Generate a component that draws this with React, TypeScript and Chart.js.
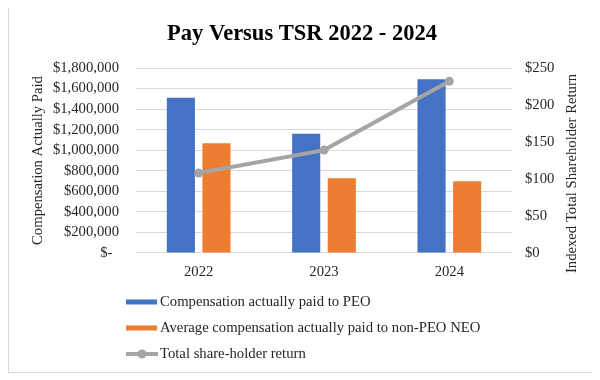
import React, { useEffect, useRef } from "react";
import { Chart, registerables } from "chart.js";

Chart.register(...registerables);

const categories = ["2022", "2023", "2024"];
const peoComp = [1510000, 1160000, 1690000];
const neoComp = [1067000, 726000, 697000];
const tsr = [108, 139, 232];

const seriesNames = [
  "Compensation actually paid to PEO",
  "Average compensation actually paid to non-PEO NEO",
  "Total share-holder return",
];
const chartTitle = "Pay Versus TSR 2022 - 2024";
const leftTitle = "Compensation Actually Paid";
const rightTitle = "Indexed Total Shareholder Return";

const FONT = "'Liberation Serif', 'Times New Roman', serif";
const FS = 14.7;
const TEXT = "#262626";
const BLUE = "#4472C4";
const ORANGE = "#ED7D31";
const GRAY = "#A5A5A5";

const extrasPlugin = {
  id: "extras",
  afterDraw(chart: any) {
    const ctx = chart.ctx;
    const ca = chart.chartArea;
    ctx.save();
    ctx.font = `${FS}px ${FONT}`;
    ctx.fillStyle = TEXT;
    // right axis title, reading bottom to top
    const y1 = chart.scales.y1;
    ctx.save();
    ctx.translate(y1.right - 23, (ca.top + ca.bottom) / 2 + 13);
    ctx.rotate(-Math.PI / 2);
    ctx.textAlign = "center";
    ctx.textBaseline = "middle";
    ctx.fillText(rightTitle, 0, 0);
    ctx.restore();
    // legend
    const x0 = ca.left - 10;
    const rows = [49, 75, 101];
    chart.data.datasets.forEach((ds: any, i: number) => {
      const y = ca.bottom + rows[i];
      if (ds.type === "line") {
        ctx.strokeStyle = ds.borderColor;
        ctx.lineWidth = 4;
        ctx.beginPath();
        ctx.moveTo(x0, y);
        ctx.lineTo(x0 + 32, y);
        ctx.stroke();
        ctx.fillStyle = ds.borderColor;
        ctx.beginPath();
        ctx.arc(x0 + 16, y, 4.5, 0, Math.PI * 2);
        ctx.fill();
      } else {
        ctx.fillStyle = ds.backgroundColor;
        ctx.fillRect(x0, y - 2.5, 31, 5);
      }
      ctx.fillStyle = TEXT;
      ctx.textAlign = "left";
      ctx.textBaseline = "middle";
      ctx.fillText(ds.label, x0 + 34, y);
    });
    ctx.restore();
  },
};

export default function App() {
  const ref = useRef<HTMLCanvasElement>(null);
  useEffect(() => {
    if (!ref.current) return;
    Chart.defaults.font.family = FONT;
    const chart = new Chart(ref.current, {
      type: "bar",
      data: {
        labels: categories,
        datasets: [
          {
            type: "bar",
            label: seriesNames[0],
            data: peoComp,
            yAxisID: "y",
            backgroundColor: BLUE,
            categoryPercentage: 0.568,
            barPercentage: 0.79,
            order: 1,
          },
          {
            type: "bar",
            label: seriesNames[1],
            data: neoComp,
            yAxisID: "y",
            backgroundColor: ORANGE,
            categoryPercentage: 0.568,
            barPercentage: 0.79,
            order: 2,
          },
          {
            type: "line",
            label: seriesNames[2],
            data: tsr,
            yAxisID: "y1",
            borderColor: GRAY,
            backgroundColor: GRAY,
            borderWidth: 4,
            pointRadius: 4.5,
            pointBackgroundColor: GRAY,
            pointBorderWidth: 0,
            order: 0,
          } as any,
        ],
      },
      plugins: [extrasPlugin],
      options: {
        animation: false,
        responsive: true,
        maintainAspectRatio: false,
        layout: { padding: { left: 0, right: 0, top: 0, bottom: 81.4 } },
        plugins: {
          legend: { display: false },
          tooltip: { enabled: false },
          title: {
            display: true,
            text: chartTitle,
            color: "#000",
            font: { family: FONT, size: 22.5, weight: "bold" },
            padding: { top: 12.5, bottom: 20.5 },
          },
        },
        scales: {
          x: {
            grid: { display: false, drawTicks: false },
            border: { display: false },
            ticks: { color: TEXT, font: { size: FS, family: FONT }, padding: 10 },
          },
          y: {
            position: "left",
            min: 0,
            max: 1800000,
            grid: { color: "#d9d9d9", drawTicks: false, lineWidth: 1 },
            border: { display: false },
            ticks: {
              stepSize: 200000,
              autoSkip: false,
              color: TEXT,
              padding: 17,
              font: { size: FS, family: FONT },
              callback: (v: any) =>
                Number(v) === 0 ? "$- \u2009" : "$" + Number(v).toLocaleString("en-US"),
            },
            title: {
              display: true,
              text: leftTitle,
              color: TEXT,
              font: { size: FS, family: FONT },
              padding: { top: 20.2, bottom: 0 },
            },
            afterFit: (s: any) => {
              s.width = 127;
            },
          },
          y1: {
            position: "right",
            min: 0,
            max: 250,
            grid: { drawOnChartArea: false, drawTicks: false },
            border: { display: false },
            ticks: {
              stepSize: 50,
              autoSkip: false,
              color: TEXT,
              padding: 13,
              font: { size: FS, family: FONT },
              callback: (v: any) => "$" + v,
            },
            afterFit: (s: any) => {
              s.width = 83;
            },
          },
        },
      } as any,
    });
    return () => chart.destroy();
  }, []);
  return (
    <div
      style={{
        width: 588,
        height: 366,
        marginTop: -1,
        border: "1px solid #d9d9d9",
        boxSizing: "border-box",
        background: "#fff",
      }}
    >
      <div style={{ position: "relative", width: 586, height: 364 }}>
        <canvas ref={ref} />
      </div>
    </div>
  );
}
